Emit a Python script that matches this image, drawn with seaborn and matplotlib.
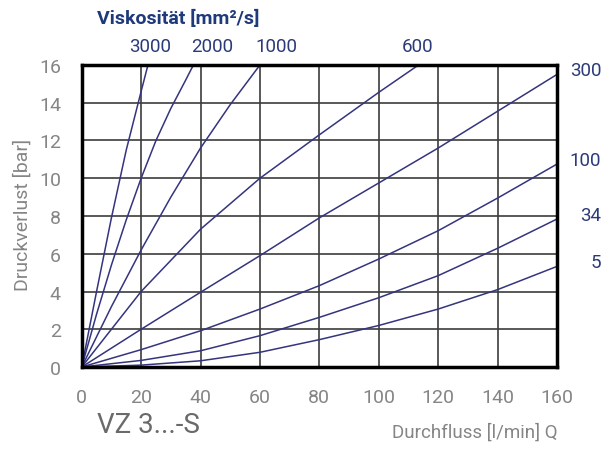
import numpy as np
import pandas as pd
import matplotlib
matplotlib.use("Agg")
import matplotlib.pyplot as plt
import seaborn as sns

# --- Daten: Druckverlust [bar] über Durchfluss [l/min] je Viskosität ---
visc_labels = ["3000", "2000", "1000", "600", "300", "100", "34", "5"]

q_3000 = [0, 5, 10, 15, 20, 22.3]
p_3000 = [0, 4.0, 7.9, 11.5, 14.6, 16]
q_2000 = [0, 5, 10, 15, 20, 25, 30, 35, 37.6]
p_2000 = [0, 2.8, 5.4, 7.8, 10, 12.0, 13.7, 15.2, 16]
q_1000 = [0, 10, 20, 30, 40, 50, 60]
p_1000 = [0, 3.2, 6.2, 9.0, 11.6, 13.9, 16]
q_600 = [0, 20, 40, 60, 80, 100, 113.4]
p_600 = [0, 4.0, 7.3, 10, 12.3, 14.55, 16]

q_flow = [0, 20, 40, 60, 80, 100, 120, 140, 160]
p_300 = [0, 2.0, 3.96, 5.9, 7.9, 9.75, 11.6, 13.55, 15.5]
p_100 = [0, 0.92, 1.92, 3.07, 4.31, 5.72, 7.22, 8.95, 10.75]
p_34 = [0, 0.35, 0.86, 1.66, 2.63, 3.67, 4.84, 6.29, 7.84]
p_5 = [0, 0.1, 0.33, 0.78, 1.45, 2.2, 3.07, 4.1, 5.33]

top_labels = ["3000", "2000", "1000", "600"]
top_label_q = [23, 44, 65.5, 113]
right_labels = ["300", "100", "34", "5"]

x_ticks = [0, 20, 40, 60, 80, 100, 120, 140, 160]
y_ticks = [0, 2, 4, 6, 8, 10, 12, 14, 16]

# --- Tabelle für seaborn ---
series = {
    "3000": (q_3000, p_3000),
    "2000": (q_2000, p_2000),
    "1000": (q_1000, p_1000),
    "600": (q_600, p_600),
    "300": (q_flow, p_300),
    "100": (q_flow, p_100),
    "34": (q_flow, p_34),
    "5": (q_flow, p_5),
}
rows = []
for name, (qs, ps) in series.items():
    for q, p in zip(qs, ps):
        rows.append({"visk": name, "Q": q, "p": p})
df = pd.DataFrame(rows)

sns.set_style("white")
plt.rcParams["font.family"] = ["Roboto", "DejaVu Sans"]

grey = "#858585"
navy = "#2b3a78"
line_col = "#34347f"

fig = plt.figure(figsize=(6.13, 4.52), dpi=100)
ax = fig.add_axes([0.1333, 0.1858, 0.7753, 0.6682])

# Gitter
for x in x_ticks:
    ax.axvline(x, color="#3c3c3c", lw=1.2, zorder=1)
for y in y_ticks:
    ax.axhline(y, color="#3c3c3c", lw=1.2, zorder=1)

sns.lineplot(data=df, x="Q", y="p", hue="visk", hue_order=visc_labels,
             palette=[line_col] * len(visc_labels), estimator=None, sort=False,
             legend=False, lw=1.1, ax=ax, zorder=3)

ax.set_xlim(0, 160)
ax.set_ylim(0, 16)
ax.set_xticks(x_ticks)
ax.set_yticks(y_ticks)
ax.set_xticks(np.arange(10, 160, 20), minor=True)
ax.set_xlabel("")
ax.set_ylabel("")
ax.tick_params(axis="both", which="major", direction="out", length=11, width=1.2,
               color="#4a4a4a", labelcolor=grey, labelsize=14, pad=4)
ax.tick_params(axis="x", which="minor", direction="out", length=5, width=1.2,
               color="#4a4a4a")
for s in ax.spines.values():
    s.set_visible(True)
    s.set_color("black")
    s.set_linewidth(2.5)
    s.set_zorder(4)

# Beschriftung der Kurven
for lab, q in zip(top_labels, top_label_q):
    ax.text(q, 16.55, lab, ha="center", va="bottom", fontsize=13.5, color=navy)
for lab in right_labels:
    q_end, p_end = series[lab][0][-1], series[lab][1][-1]
    ax.annotate(lab, xy=(q_end, p_end), xytext=(32, 3), textcoords="offset points",
                ha="right", va="center", fontsize=13.5, color=navy)

fig.text(0.158, 0.958, "Viskosität [mm²/s]", ha="left", va="center",
         fontsize=14, fontweight="bold", color="#1f3a7a")
fig.text(0.036, 0.525, "Druckverlust [bar]", rotation=90, ha="center", va="center",
         fontsize=14, color=grey)
fig.text(0.158, 0.058, "VZ 3...-S", ha="left", va="center", fontsize=20,
         color="#6a6a6a")
fig.text(0.91, 0.042, "Durchfluss [l/min] Q", ha="right", va="center",
         fontsize=13.5, color=grey)

fig.savefig("out.png", dpi=100, facecolor="white")
